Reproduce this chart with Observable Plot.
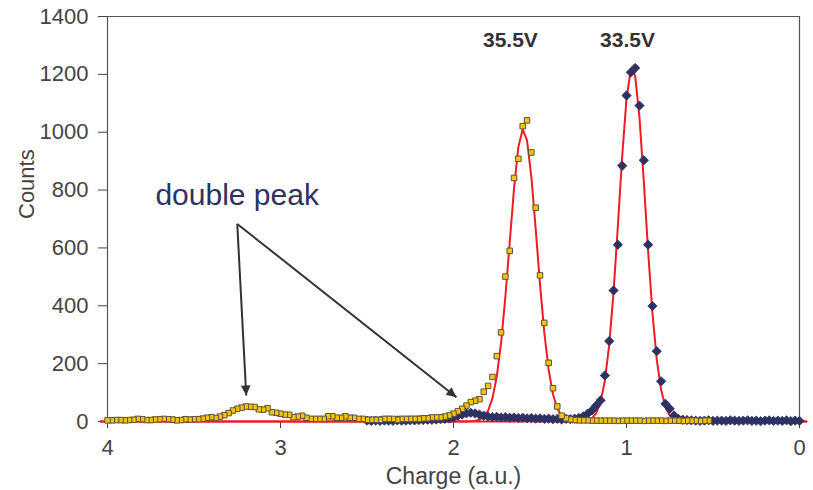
<!DOCTYPE html>
<html>
<head>
<meta charset="utf-8">
<script src="https://cdn.jsdelivr.net/npm/d3@7"></script>
<script src="https://cdn.jsdelivr.net/npm/@observablehq/plot@0.6"></script>
<style>
  html, body { margin: 0; padding: 0; background: #fff; }
</style>
</head>
<body>
<div id="chart"></div>
<script>
// ---------- DATA ----------
// Histogram bins (charge in a.u.), bin width 0.025
const binStep = 0.025;
const yellowStart = 0.525;   // 35.5V series, first bin centre
const blueStart = 0.0;       // 33.5V series, first bin centre

// 35.5V (yellow squares), counts from charge 0.525 up to 4.0
const yellowCounts = [
  3,3,2,3,3,3,2,3,3,3,
  2,3,3,3,3,2,3,3,3,3,
  3,2,3,3,3,3,3,3,4,4,
  4,5,7,11,20,52,115,203,341,505,
  739,930,1041,1021,908,842,590,501,308,226,
  154,123,103,77,72,67,55,44,35,27,
  21,17,14,14,14,11,11,9,9,9,
  9,9,6,9,9,9,6,6,6,6,
  9,9,13,13,18,13,13,18,18,9,
  9,9,9,13,20,17,15,23,24,27,
  30,32,46,41,42,50,51,52,48,44,
  38,29,22,17,12,15,13,10,8,8,
  7,8,5,4,7,8,9,8,7,5,
  5,8,9,6,5,4,5,5,4,4
];

// 33.5V (blue diamonds), counts from charge 0.0 up to 2.5
const blueCounts = [
  2,3,1,4,2,3,2,4,3,1,
  3,2,4,3,2,3,4,2,3,3,
  2,4,3,2,3,4,5,6,
  9,21,44,61,139,243,399,611,903,1092,1222,1207,
  1127,884,611,453,278,159,73,55,38,27,18,12,
  10,8,9,7,9,8,10,9,11,10,12,11,
  13,12,14,13,15,14,16,15,17,20,24,28,
  30,28,24,20,14,11,9,8,7,6,6,5,
  5,4,4,3,3,4,2,3,3,2,3,2,3
];

// Gaussian fit curves (red)
const fit355Charge = [-0.04,1.25,1.275,1.3,1.325,1.35,1.375,1.4,1.425,1.45,1.475,1.5,1.525,1.55,1.575,1.6,1.625,1.65,1.675,1.7,1.725,1.75,1.775,1.8,1.825,1.85,1.875,1.9,1.925,4.04];
const fit355Counts = [0,0,0,1,3,8,20,45,94,179,307,475,667,846,972,1010,949,806,620,432,272,155,80,37,16,6,2,1,0,0];

const fit335Charge = [-0.04,0.65,0.675,0.7,0.725,0.75,0.775,0.8,0.825,0.85,0.875,0.9,0.925,0.95,0.975,1.0,1.025,1.05,1.075,1.1,1.125,1.15,1.175,1.2,1.225,1.25,1.275,4.04];
const fit335Counts = [0,0,1,3,8,21,50,110,214,375,589,830,1051,1195,1218,1115,916,675,446,265,141,67,29,11,4,1,0,0];

const xTicks = [4, 3, 2, 1, 0];
const yTicks = [0, 200, 400, 600, 800, 1000, 1200, 1400];

const peakLabels = ["35.5V", "33.5V"];
const noteLabel = "double peak";
const xLabel = "Charge (a.u.)";
const yLabel = "Counts";

// ---------- annotation anchors (data units) ----------
const ann = {
  peakCharge: [1.671, 0.994], peakCount: 1317,
  noteCharge: 3.723, noteCount: 780,
  arrowStart: { charge: 3.250, count: 683 },
  arrowTips: [ { charge: 3.198, count: 90 }, { charge: 1.983, count: 84 } ]
};

// ---------- tables ----------
const yellow = yellowCounts.map((c, i) => ({ charge: +(yellowStart + i * binStep).toFixed(3), counts: c }));
const blue = blueCounts.map((c, i) => ({ charge: +(blueStart + i * binStep).toFixed(3), counts: c }));
const fit355 = fit355Charge.map((x, i) => ({ charge: x, counts: fit355Counts[i] }));
const fit335 = fit335Charge.map((x, i) => ({ charge: x, counts: fit335Counts[i] }));
const peaks = peakLabels.map((t, i) => ({ text: t, charge: ann.peakCharge[i], counts: ann.peakCount }));
const arrows = ann.arrowTips.map(t => ({ x1: ann.arrowStart.charge, y1: ann.arrowStart.count, x2: t.charge, y2: t.count }));

// custom symbols
const diamond = { draw(ctx, size) { const r = Math.sqrt(size) * 0.62625; ctx.moveTo(0, -r); ctx.lineTo(r, 0); ctx.lineTo(0, r); ctx.lineTo(-r, 0); ctx.closePath(); } };
function head(deg, L = 10, W = 4.8) {
  const a = deg * Math.PI / 180, ux = Math.sin(a), uy = -Math.cos(a), px = -uy, py = ux;
  return { draw(ctx) { const bx = -ux * L, by = -uy * L; ctx.moveTo(0, 0); ctx.lineTo(bx + px * W, by + py * W); ctx.lineTo(bx - px * W, by - py * W); ctx.closePath(); } };
}

const FONT = "'Liberation Sans', Arial, Helvetica, sans-serif";

const chart = Plot.plot({
  width: 813,
  height: 490,
  marginTop: 16,
  marginRight: 14,
  marginBottom: 69,
  marginLeft: 107,
  style: { fontFamily: FONT, fontSize: "22px", color: "#444", background: "#fff" },
  x: { domain: [4, 0], ticks: xTicks, tickSize: 7, tickPadding: 11, label: null, tickFormat: d => String(d) },
  y: { domain: [0, 1400], ticks: yTicks, tickSize: 9, tickPadding: 10, label: null, tickFormat: d => String(d) },
  marks: [
    Plot.ruleX([4, 0], { stroke: "#555", strokeWidth: 1.2 }),
    Plot.ruleY([1400], { stroke: "#555", strokeWidth: 1.2 }),
    Plot.line(fit355, { x: "charge", y: "counts", stroke: "#ee1c25", strokeWidth: 2 }),
    Plot.line(fit335, { x: "charge", y: "counts", stroke: "#ee1c25", strokeWidth: 2 }),
    Plot.dot(blue, { x: "charge", y: "counts", symbol: diamond, r: 4.2, fill: "#2d3163", stroke: "#2d3163", strokeWidth: 0.8 }),
    Plot.dot(yellow, { x: "charge", y: "counts", symbol: "square", r: 3.1, fill: "#f7c500", stroke: "#5a5242", strokeWidth: 1 }),
    Plot.link(arrows, { x1: "x1", y1: "y1", x2: "x2", y2: "y2", stroke: "#333", strokeWidth: 2 }),
    Plot.dot([arrows[0]], { x: "x2", y: "y2", symbol: head(177), r: 4, fill: "#333", stroke: "none" }),
    Plot.dot([arrows[1]], { x: "x2", y: "y2", symbol: head(128.3), r: 4, fill: "#333", stroke: "none" }),
    Plot.text(peaks, { x: "charge", y: "counts", text: "text", fontWeight: "bold", fontSize: 21, fill: "#333", textAnchor: "middle", lineAnchor: "middle" }),
    Plot.text([noteLabel], { x: () => ann.noteCharge, y: () => ann.noteCount, text: d => d, fontSize: 30, fill: "#2e3163", textAnchor: "start", lineAnchor: "middle" }),
    Plot.text([xLabel], { frameAnchor: "bottom", dy: 55, text: d => d, fontSize: 23, fill: "#444", lineAnchor: "middle" }),
    Plot.text([yLabel], { frameAnchor: "left", dx: -81, rotate: -90, text: d => d, fontSize: 22, fill: "#444", lineAnchor: "middle" })
  ]
});
document.getElementById("chart").appendChild(chart);
</script>
</body>
</html>
